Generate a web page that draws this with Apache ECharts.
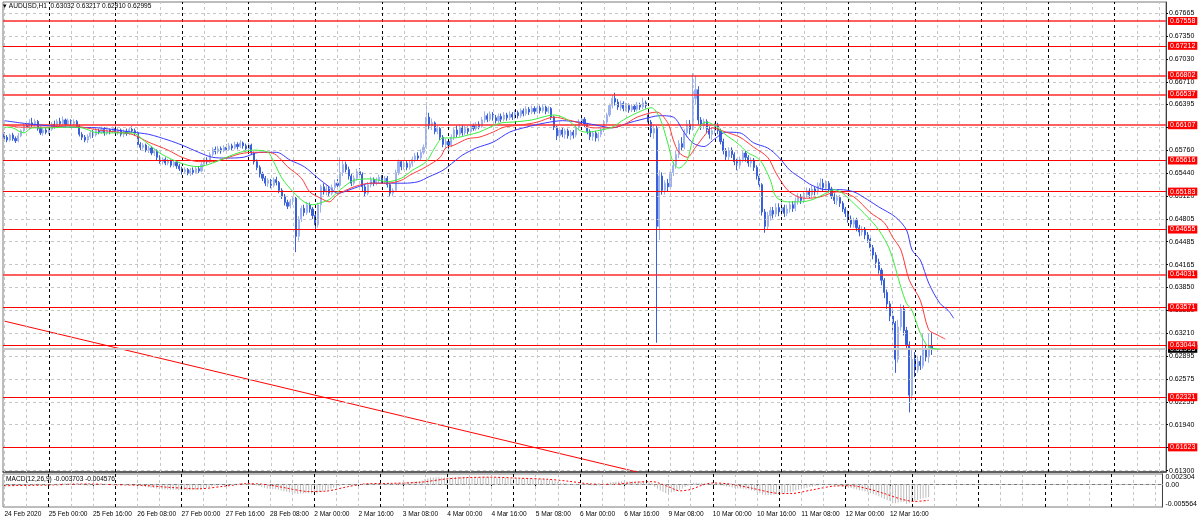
<!DOCTYPE html>
<html><head><meta charset="utf-8">
<script src="https://cdn.jsdelivr.net/npm/echarts@6/dist/echarts.min.js"></script>
<style>html,body{margin:0;padding:0;background:#fff}#c{width:1200px;height:524px}</style>
</head><body><div id="c"></div>
<script>
// ---------- DATA ----------
const symbolName = 'AUDUSD,H1';
const timeLabels = ['24 Feb 2020','25 Feb 00:00','25 Feb 16:00','26 Feb 08:00','27 Feb 00:00','27 Feb 16:00','28 Feb 08:00','2 Mar 00:00','2 Mar 16:00','3 Mar 08:00','4 Mar 00:00','4 Mar 16:00','5 Mar 08:00','6 Mar 00:00','6 Mar 16:00','9 Mar 08:00','10 Mar 00:00','10 Mar 16:00','11 Mar 08:00','12 Mar 00:00','12 Mar 16:00'];
const yTicks = [0.67665,0.67350,0.67030,0.66710,0.66395,0.66075,0.65760,0.65440,0.65120,0.64805,0.64485,0.64165,0.63850,0.63530,0.63210,0.62895,0.62575,0.62255,0.61940,0.61620,0.61300];
const levels = [0.67558,0.67212,0.66802,0.66537,0.66107,0.65616,0.65183,0.64655,0.64031,0.63571,0.63044,0.62321,0.61623];
const daySeparators = [16,40,64,88,112,136,160,184,208,232,256,280,304,328,352,376,400];
const macdTicks = [0.002304, 0, -0.005564];
// candles: [open, close, low, high], hourly bars from 24 Feb 08:00
const candles = [
[0.6598,0.6594,0.6590,0.6601],[0.6594,0.6590,0.6587,0.6597],[0.6590,0.6597,0.6588,0.6599],[0.6597,0.6592,0.6589,0.6600],
[0.6592,0.6589,0.6586,0.6595],[0.6589,0.6596,0.6587,0.6600],[0.6596,0.6603,0.6594,0.6605],[0.6603,0.6610,0.6601,0.6613],
[0.6610,0.6607,0.6604,0.6616],[0.6607,0.6614,0.6605,0.6619],[0.6614,0.6611,0.6608,0.6621],[0.6611,0.6616,0.6609,0.6619],
[0.6616,0.6606,0.6603,0.6618],[0.6606,0.6600,0.6597,0.6609],[0.6600,0.6604,0.6596,0.6607],[0.6604,0.6601,0.6598,0.6608],
// 25 Feb
[0.6601,0.6605,0.6598,0.6608],[0.6605,0.6612,0.6603,0.6615],[0.6612,0.6609,0.6606,0.6617],[0.6609,0.6616,0.6607,0.6619],
[0.6616,0.6613,0.6610,0.6621],[0.6613,0.6618,0.6611,0.6623],[0.6618,0.6612,0.6609,0.6620],[0.6612,0.6617,0.6610,0.6620],
[0.6617,0.6613,0.6609,0.6619],[0.6613,0.6616,0.6610,0.6619],[0.6616,0.6610,0.6607,0.6618],[0.6610,0.6598,0.6595,0.6612],
[0.6598,0.6594,0.6590,0.6601],[0.6594,0.6590,0.6587,0.6597],[0.6590,0.6595,0.6586,0.6598],[0.6595,0.6600,0.6592,0.6603],
[0.6600,0.6597,0.6593,0.6604],[0.6597,0.6603,0.6595,0.6607],[0.6603,0.6601,0.6598,0.6606],[0.6601,0.6605,0.6599,0.6609],
[0.6605,0.6600,0.6596,0.6608],[0.6600,0.6604,0.6597,0.6607],[0.6604,0.6602,0.6598,0.6606],[0.6602,0.6606,0.6600,0.6609],
// 26 Feb
[0.6606,0.6601,0.6598,0.6609],[0.6601,0.6604,0.6597,0.6608],[0.6604,0.6598,0.6595,0.6606],[0.6598,0.6602,0.6594,0.6605],
[0.6602,0.6599,0.6596,0.6606],[0.6599,0.6605,0.6597,0.6608],[0.6605,0.6603,0.6600,0.6609],[0.6603,0.6600,0.6596,0.6606],
[0.6600,0.6584,0.6581,0.6602],[0.6584,0.6580,0.6576,0.6587],[0.6580,0.6583,0.6577,0.6586],[0.6583,0.6576,0.6573,0.6585],
[0.6576,0.6579,0.6572,0.6582],[0.6579,0.6572,0.6569,0.6581],[0.6572,0.6575,0.6568,0.6578],[0.6575,0.6566,0.6562,0.6577],
[0.6566,0.6560,0.6557,0.6569],[0.6560,0.6563,0.6556,0.6566],[0.6563,0.6558,0.6555,0.6566],[0.6558,0.6561,0.6555,0.6564],
[0.6561,0.6555,0.6552,0.6563],[0.6555,0.6559,0.6552,0.6562],[0.6559,0.6554,0.6550,0.6561],[0.6554,0.6550,0.6547,0.6557],
// 27 Feb
[0.6550,0.6546,0.6542,0.6553],[0.6546,0.6549,0.6543,0.6552],[0.6549,0.6544,0.6541,0.6551],[0.6544,0.6548,0.6540,0.6551],
[0.6548,0.6545,0.6542,0.6552],[0.6545,0.6550,0.6543,0.6553],[0.6550,0.6547,0.6544,0.6554],[0.6547,0.6556,0.6545,0.6559],
[0.6556,0.6562,0.6553,0.6565],[0.6562,0.6560,0.6556,0.6566],[0.6560,0.6570,0.6558,0.6573],[0.6570,0.6577,0.6567,0.6580],
[0.6577,0.6574,0.6570,0.6581],[0.6574,0.6578,0.6571,0.6582],[0.6578,0.6575,0.6571,0.6581],[0.6575,0.6580,0.6573,0.6583],
[0.6580,0.6577,0.6573,0.6584],[0.6577,0.6582,0.6575,0.6586],[0.6582,0.6579,0.6576,0.6585],[0.6579,0.6584,0.6577,0.6588],
[0.6584,0.6581,0.6577,0.6587],[0.6581,0.6586,0.6579,0.6590],[0.6586,0.6582,0.6578,0.6588],[0.6582,0.6578,0.6574,0.6585],
// 28 Feb
[0.6578,0.6583,0.6575,0.6586],[0.6583,0.6572,0.6569,0.6585],[0.6572,0.6560,0.6556,0.6574],[0.6560,0.6552,0.6548,0.6563],
[0.6552,0.6543,0.6538,0.6555],[0.6543,0.6537,0.6533,0.6546],[0.6537,0.6530,0.6526,0.6540],[0.6530,0.6534,0.6525,0.6537],
[0.6534,0.6527,0.6523,0.6536],[0.6527,0.6535,0.6524,0.6538],[0.6535,0.6531,0.6527,0.6539],[0.6531,0.6520,0.6516,0.6533],
[0.6520,0.6512,0.6508,0.6523],[0.6512,0.6503,0.6499,0.6515],[0.6503,0.6498,0.6494,0.6507],[0.6498,0.6505,0.6495,0.6508],
[0.6505,0.6509,0.6500,0.6512],[0.6509,0.6456,0.6434,0.6511],[0.6456,0.6480,0.6450,0.6484],[0.6480,0.6495,0.6476,0.6499],
[0.6495,0.6489,0.6484,0.6500],[0.6489,0.6500,0.6486,0.6504],[0.6500,0.6494,0.6489,0.6503],[0.6494,0.6485,0.6480,0.6497],
// 2 Mar
[0.6485,0.6472,0.6465,0.6488],[0.6472,0.6500,0.6468,0.6503],[0.6500,0.6525,0.6489,0.6528],[0.6525,0.6518,0.6514,0.6530],
[0.6518,0.6522,0.6513,0.6527],[0.6522,0.6516,0.6512,0.6526],[0.6516,0.6524,0.6513,0.6528],[0.6524,0.6530,0.6520,0.6535],
[0.6530,0.6527,0.6523,0.6536],[0.6527,0.6545,0.6524,0.6566],[0.6545,0.6556,0.6540,0.6562],[0.6556,0.6549,0.6545,0.6560],
[0.6549,0.6540,0.6535,0.6553],[0.6540,0.6530,0.6526,0.6544],[0.6530,0.6537,0.6527,0.6541],[0.6537,0.6546,0.6534,0.6550],
[0.6546,0.6542,0.6538,0.6551],[0.6542,0.6525,0.6518,0.6545],[0.6525,0.6516,0.6511,0.6528],[0.6516,0.6528,0.6513,0.6532],
[0.6528,0.6535,0.6524,0.6539],[0.6535,0.6530,0.6526,0.6538],[0.6530,0.6534,0.6527,0.6538],[0.6534,0.6538,0.6530,0.6542],
// 3 Mar
[0.6538,0.6533,0.6529,0.6541],[0.6533,0.6537,0.6530,0.6540],[0.6537,0.6528,0.6524,0.6540],[0.6528,0.6516,0.6511,0.6530],
[0.6516,0.6520,0.6512,0.6523],[0.6520,0.6545,0.6518,0.6549],[0.6545,0.6560,0.6541,0.6563],[0.6560,0.6553,0.6548,0.6562],
[0.6553,0.6558,0.6549,0.6562],[0.6558,0.6552,0.6548,0.6561],[0.6552,0.6557,0.6549,0.6561],[0.6557,0.6563,0.6553,0.6567],
[0.6563,0.6568,0.6559,0.6572],[0.6568,0.6565,0.6561,0.6573],[0.6565,0.6573,0.6562,0.6577],[0.6573,0.6580,0.6570,0.6584],
[0.6580,0.6622,0.6578,0.6643],[0.6622,0.6610,0.6605,0.6628],[0.6610,0.6614,0.6604,0.6620],[0.6614,0.6602,0.6598,0.6616],
[0.6602,0.6606,0.6598,0.6610],[0.6606,0.6594,0.6590,0.6608],[0.6594,0.6584,0.6580,0.6597],[0.6584,0.6588,0.6578,0.6592],
// 4 Mar
[0.6588,0.6583,0.6577,0.6591],[0.6583,0.6594,0.6580,0.6598],[0.6594,0.6604,0.6590,0.6608],[0.6604,0.6598,0.6594,0.6610],
[0.6598,0.6608,0.6595,0.6612],[0.6608,0.6600,0.6596,0.6611],[0.6600,0.6606,0.6597,0.6610],[0.6606,0.6602,0.6598,0.6609],
[0.6602,0.6610,0.6600,0.6614],[0.6610,0.6606,0.6603,0.6613],[0.6606,0.6612,0.6603,0.6615],[0.6612,0.6609,0.6605,0.6616],
[0.6609,0.6618,0.6607,0.6622],[0.6618,0.6624,0.6614,0.6630],[0.6624,0.6619,0.6615,0.6627],[0.6619,0.6626,0.6616,0.6630],
[0.6626,0.6621,0.6617,0.6629],[0.6621,0.6617,0.6613,0.6625],[0.6617,0.6623,0.6614,0.6627],[0.6623,0.6619,0.6615,0.6627],
[0.6619,0.6625,0.6616,0.6629],[0.6625,0.6621,0.6617,0.6628],[0.6621,0.6626,0.6618,0.6630],[0.6626,0.6622,0.6618,0.6629],
// 5 Mar
[0.6622,0.6628,0.6619,0.6632],[0.6628,0.6624,0.6620,0.6631],[0.6624,0.6631,0.6621,0.6634],[0.6631,0.6627,0.6623,0.6634],
[0.6627,0.6633,0.6624,0.6637],[0.6633,0.6629,0.6625,0.6636],[0.6629,0.6634,0.6626,0.6638],[0.6634,0.6630,0.6626,0.6637],
[0.6630,0.6635,0.6627,0.6640],[0.6635,0.6631,0.6627,0.6638],[0.6631,0.6636,0.6628,0.6640],[0.6636,0.6630,0.6626,0.6638],
[0.6630,0.6634,0.6627,0.6637],[0.6634,0.6622,0.6618,0.6636],[0.6622,0.6608,0.6604,0.6624],[0.6608,0.6596,0.6590,0.6610],
[0.6596,0.6604,0.6592,0.6608],[0.6604,0.6598,0.6594,0.6607],[0.6598,0.6603,0.6592,0.6606],[0.6603,0.6596,0.6592,0.6606],
[0.6596,0.6601,0.6590,0.6604],[0.6601,0.6597,0.6592,0.6604],[0.6597,0.6608,0.6594,0.6612],[0.6608,0.6615,0.6605,0.6619],
// 6 Mar
[0.6615,0.6619,0.6610,0.6623],[0.6619,0.6612,0.6608,0.6622],[0.6612,0.6602,0.6598,0.6614],[0.6602,0.6595,0.6590,0.6605],
[0.6595,0.6600,0.6589,0.6603],[0.6600,0.6593,0.6588,0.6603],[0.6593,0.6598,0.6588,0.6601],[0.6598,0.6604,0.6594,0.6607],
[0.6604,0.6615,0.6601,0.6618],[0.6615,0.6625,0.6612,0.6628],[0.6625,0.6638,0.6622,0.6641],[0.6638,0.6648,0.6634,0.6652],
[0.6648,0.6643,0.6638,0.6656],[0.6643,0.6636,0.6632,0.6647],[0.6636,0.6641,0.6631,0.6645],[0.6641,0.6634,0.6630,0.6644],
[0.6634,0.6638,0.6630,0.6642],[0.6638,0.6632,0.6628,0.6641],[0.6632,0.6637,0.6629,0.6640],[0.6637,0.6633,0.6629,0.6640],
[0.6633,0.6639,0.6630,0.6643],[0.6639,0.6636,0.6632,0.6642],[0.6636,0.6642,0.6633,0.6649],[0.6642,0.6638,0.6634,0.6645],
// 9 Mar
[0.6625,0.6615,0.6610,0.6630],[0.6615,0.6600,0.6594,0.6618],[0.6600,0.6606,0.6592,0.6612],[0.6606,0.6470,0.6308,0.6610],
[0.6470,0.6540,0.6451,0.6548],[0.6540,0.6520,0.6514,0.6545],[0.6520,0.6530,0.6514,0.6534],[0.6530,0.6525,0.6518,0.6536],
[0.6525,0.6545,0.6521,0.6550],[0.6545,0.6555,0.6540,0.6560],[0.6555,0.6570,0.6550,0.6575],[0.6570,0.6585,0.6565,0.6590],
[0.6585,0.6580,0.6575,0.6594],[0.6580,0.6600,0.6577,0.6605],[0.6600,0.6612,0.6594,0.6618],[0.6612,0.6605,0.6598,0.6618],
[0.6605,0.6648,0.6603,0.6683],[0.6648,0.6660,0.6640,0.6680],[0.6660,0.6618,0.6612,0.6665],[0.6618,0.6610,0.6604,0.6622],
[0.6610,0.6616,0.6605,0.6620],[0.6616,0.6605,0.6600,0.6619],[0.6605,0.6598,0.6592,0.6609],[0.6598,0.6603,0.6590,0.6607],
// 10 Mar
[0.6603,0.6610,0.6598,0.6614],[0.6610,0.6603,0.6598,0.6614],[0.6603,0.6588,0.6584,0.6606],[0.6588,0.6575,0.6570,0.6592],
[0.6575,0.6567,0.6562,0.6579],[0.6567,0.6576,0.6562,0.6580],[0.6576,0.6570,0.6565,0.6580],[0.6570,0.6560,0.6555,0.6573],
[0.6560,0.6555,0.6548,0.6564],[0.6555,0.6563,0.6550,0.6567],[0.6563,0.6572,0.6559,0.6576],[0.6572,0.6566,0.6560,0.6575],
[0.6566,0.6558,0.6553,0.6569],[0.6558,0.6562,0.6552,0.6566],[0.6562,0.6552,0.6547,0.6565],[0.6552,0.6540,0.6535,0.6555],
[0.6540,0.6528,0.6522,0.6543],[0.6528,0.6490,0.6485,0.6530],[0.6490,0.6470,0.6461,0.6494],[0.6470,0.6485,0.6466,0.6490],
[0.6485,0.6492,0.6478,0.6497],[0.6492,0.6487,0.6481,0.6497],[0.6487,0.6496,0.6483,0.6502],[0.6496,0.6490,0.6484,0.6502],
// 11 Mar
[0.6490,0.6496,0.6485,0.6503],[0.6496,0.6488,0.6483,0.6500],[0.6488,0.6494,0.6484,0.6500],[0.6494,0.6500,0.6489,0.6505],
[0.6500,0.6495,0.6490,0.6505],[0.6495,0.6505,0.6491,0.6510],[0.6505,0.6511,0.6500,0.6516],[0.6511,0.6506,0.6501,0.6515],
[0.6506,0.6514,0.6502,0.6519],[0.6514,0.6519,0.6510,0.6524],[0.6519,0.6514,0.6509,0.6523],[0.6514,0.6522,0.6510,0.6527],
[0.6522,0.6518,0.6513,0.6526],[0.6518,0.6526,0.6514,0.6531],[0.6526,0.6530,0.6521,0.6537],[0.6530,0.6524,0.6519,0.6536],
[0.6524,0.6530,0.6520,0.6534],[0.6530,0.6522,0.6517,0.6533],[0.6522,0.6512,0.6508,0.6525],[0.6512,0.6506,0.6501,0.6516],
[0.6506,0.6510,0.6500,0.6514],[0.6510,0.6502,0.6497,0.6513],[0.6502,0.6494,0.6490,0.6505],[0.6494,0.6488,0.6483,0.6497],
// 12 Mar
[0.6488,0.6480,0.6475,0.6492],[0.6480,0.6473,0.6468,0.6485],[0.6473,0.6478,0.6468,0.6482],[0.6478,0.6468,0.6463,0.6482],
[0.6468,0.6462,0.6456,0.6472],[0.6462,0.6466,0.6457,0.6470],[0.6466,0.6458,0.6452,0.6469],[0.6458,0.6452,0.6447,0.6462],
[0.6452,0.6440,0.6435,0.6455],[0.6440,0.6430,0.6424,0.6444],[0.6430,0.6420,0.6412,0.6434],[0.6420,0.6409,0.6404,0.6425],
[0.6409,0.6395,0.6388,0.6412],[0.6395,0.6378,0.6370,0.6398],[0.6378,0.6362,0.6355,0.6382],[0.6362,0.6345,0.6338,0.6366],
[0.6345,0.6335,0.6325,0.6352],[0.6335,0.6285,0.6266,0.6338],[0.6285,0.6330,0.6280,0.6340],[0.6330,0.6355,0.6325,0.6362],
[0.6355,0.6325,0.6318,0.6360],[0.6325,0.6305,0.6298,0.6330],[0.6305,0.6235,0.6211,0.6310],[0.6235,0.6285,0.6228,0.6300],
// 13 Mar
[0.6285,0.6270,0.6260,0.6295],[0.6270,0.6282,0.6266,0.6290],[0.6282,0.6276,0.6270,0.6290],[0.6276,0.6298,0.6272,0.6321],
[0.6298,0.6288,0.6282,0.6305],[0.6288,0.6303,0.6280,0.6321],[0.63032,0.62995,0.62910,0.63217]
];
// Alligator lines: [bar index, price]
const jaw = [[0,0.6617],[10,0.6612],[23,0.6608],[34,0.6607],[46,0.6601],[52,0.6598],[59,0.6590],[64,0.6583],[70,0.6573],[75,0.6566],[80,0.6565],[86,0.6566],[92,0.6573],[98,0.6573],[103,0.6562],[108,0.6553],[113,0.6537],[117,0.6525],[120,0.6516],[126,0.6523],[132,0.6530],[138,0.6530],[144,0.6530],[149,0.6532],[153,0.6539],[158,0.6548],[162,0.6560],[165,0.6569],[170,0.6579],[176,0.6587],[182,0.6601],[188,0.6608],[195,0.6614],[201,0.6617],[207,0.6615],[213,0.6611],[219,0.6607],[225,0.6614],[233,0.6622],[236,0.6624],[241,0.6622],[245,0.6600],[248,0.6586],[252,0.6581],[256,0.6592],[260,0.6601],[265,0.6600],[270,0.6586],[275,0.6579],[279,0.6566],[283,0.6548],[287,0.6537],[291,0.6527],[296,0.6521],[301,0.6521],[306,0.6518],[311,0.6507],[315,0.6497],[321,0.6483],[325,0.6465],[327,0.6437],[330,0.6423],[333,0.6391],[337,0.6363],[340,0.6353],[342,0.6342]];
const teeth = [[0,0.6611],[6,0.6608],[16,0.6608],[23,0.6610],[28,0.6608],[34,0.6604],[41,0.6601],[46,0.6598],[52,0.6587],[59,0.6576],[64,0.6566],[70,0.6560],[75,0.6560],[80,0.6565],[85,0.6571],[90,0.6573],[95,0.6573],[98,0.6569],[102,0.6553],[107,0.6537],[110,0.6518],[114,0.6509],[117,0.6504],[120,0.6514],[126,0.6525],[132,0.6530],[138,0.6530],[143,0.6534],[146,0.6541],[152,0.6553],[157,0.6566],[159,0.6579],[162,0.6583],[167,0.6592],[171,0.6594],[176,0.6601],[180,0.6608],[186,0.6611],[192,0.6615],[198,0.6622],[203,0.6618],[207,0.6614],[212,0.6607],[218,0.6607],[223,0.6611],[228,0.6622],[235,0.6629],[239,0.6614],[241,0.6590],[243,0.6573],[246,0.6566],[249,0.6580],[253,0.6600],[255,0.6607],[260,0.6601],[265,0.6594],[270,0.6580],[275,0.6566],[278,0.6544],[282,0.6521],[286,0.6511],[289,0.6509],[294,0.6511],[300,0.6518],[306,0.6511],[312,0.6489],[317,0.6475],[320,0.6455],[323,0.6437],[326,0.6395],[330,0.6367],[333,0.6326],[336,0.6319],[339,0.6313]];
const lips = [[0,0.6608],[3,0.6607],[7,0.6600],[10,0.6607],[16,0.6607],[23,0.6608],[28,0.6607],[34,0.6600],[41,0.6600],[46,0.6600],[51,0.6587],[56,0.6572],[61,0.6562],[66,0.6555],[70,0.6553],[75,0.6558],[80,0.6566],[85,0.6573],[90,0.6576],[95,0.6573],[97,0.6560],[100,0.6537],[104,0.6518],[108,0.6504],[111,0.6500],[115,0.6504],[117,0.6507],[121,0.6521],[126,0.6534],[132,0.6536],[138,0.6532],[143,0.6537],[147,0.6548],[152,0.6560],[155,0.6579],[158,0.6593],[162,0.6593],[167,0.6597],[171,0.6601],[175,0.6608],[179,0.6614],[183,0.6615],[190,0.6618],[198,0.6625],[203,0.6618],[207,0.6604],[210,0.6601],[215,0.6604],[219,0.6608],[223,0.6618],[228,0.6628],[233,0.6635],[236,0.6622],[239,0.6586],[241,0.6558],[243,0.6551],[246,0.6562],[248,0.6590],[251,0.6611],[253,0.6615],[257,0.6607],[260,0.6597],[264,0.6586],[268,0.6572],[271,0.6566],[273,0.6558],[276,0.6534],[278,0.6511],[282,0.6504],[287,0.6504],[291,0.6507],[295,0.6514],[299,0.6521],[302,0.6516],[306,0.6502],[311,0.6483],[315,0.6465],[319,0.6437],[323,0.6385],[325,0.6363],[327,0.6353],[330,0.6321],[333,0.6302],[337,0.6299]];
// trend line drawn on the chart: [bar index, price]
const trendLine = [[0,0.6338],[228,0.6128]];
// MACD(12,26,9) main values, one per bar
const macdMain = [
-0.0002,-0.0002,-0.0001,-0.0002,-0.0002,-0.0001,0.0000,0.0001,0.0002,0.0002,0.0003,0.0003,0.0003,0.0002,0.0001,0.0001,
0.0001,0.0002,0.0002,0.0003,0.0003,0.0004,0.0004,0.0004,0.0004,0.0004,0.0003,0.0002,0.0000,-0.0002,-0.0003,-0.0002,
-0.0002,-0.0001,-0.0001,0.0000,0.0000,0.0000,0.0000,0.0001,0.0000,0.0000,-0.0001,-0.0001,-0.0001,0.0000,0.0000,0.0000,
-0.0002,-0.0004,-0.0005,-0.0007,-0.0008,-0.0009,-0.0010,-0.0011,-0.0013,-0.0013,-0.0014,-0.0014,-0.0015,-0.0015,-0.0015,-0.0016,
-0.0016,-0.0016,-0.0016,-0.0016,-0.0015,-0.0015,-0.0014,-0.0013,-0.0011,-0.0009,-0.0007,-0.0005,-0.0003,-0.0002,-0.0001,0.0000,
0.0001,0.0002,0.0002,0.0003,0.0003,0.0004,0.0004,0.0004,0.0004,0.0003,0.0001,-0.0002,-0.0004,-0.0007,-0.0009,-0.0011,
-0.0012,-0.0013,-0.0013,-0.0015,-0.0017,-0.0019,-0.0021,-0.0022,-0.0022,-0.0026,-0.0027,-0.0026,-0.0026,-0.0025,-0.0025,-0.0026,
-0.0027,-0.0025,-0.0021,-0.0018,-0.0016,-0.0014,-0.0012,-0.0009,-0.0007,-0.0004,-0.0001,0.0001,0.0001,0.0001,0.0001,0.0002,
0.0002,0.0001,0.0000,0.0000,0.0001,0.0002,0.0002,0.0003,0.0003,0.0003,0.0002,0.0001,0.0001,0.0003,0.0005,0.0006,
0.0006,0.0007,0.0007,0.0008,0.0009,0.0010,0.0011,0.0012,0.0017,0.0019,0.0021,0.0021,0.0022,0.0022,0.0021,0.0021,
0.0021,0.0021,0.0022,0.0022,0.0023,0.0023,0.0023,0.0022,0.0022,0.0022,0.0022,0.0021,0.0021,0.0022,0.0022,0.0022,
0.0022,0.0021,0.0021,0.0020,0.0020,0.0020,0.0019,0.0019,0.0019,0.0019,0.0019,0.0018,0.0018,0.0018,0.0018,0.0017,
0.0017,0.0017,0.0017,0.0016,0.0016,0.0015,0.0013,0.0010,0.0008,0.0006,0.0005,0.0004,0.0002,0.0001,0.0001,0.0002,
0.0002,0.0002,0.0001,-0.0001,-0.0002,-0.0003,-0.0003,-0.0002,0.0000,0.0002,0.0004,0.0007,0.0008,0.0009,0.0009,0.0009,
0.0009,0.0009,0.0009,0.0009,0.0009,0.0009,0.0010,0.0010,0.0009,0.0007,0.0006,-0.0006,-0.0012,-0.0017,-0.0021,-0.0024,
-0.0024,-0.0023,-0.0021,-0.0018,-0.0015,-0.0011,-0.0007,-0.0004,0.0001,0.0006,0.0006,0.0005,0.0005,0.0004,0.0003,0.0002,
0.0002,0.0001,0.0000,-0.0002,-0.0004,-0.0005,-0.0006,-0.0008,-0.0010,-0.0011,-0.0011,-0.0012,-0.0013,-0.0014,-0.0016,-0.0018,
-0.0021,-0.0025,-0.0029,-0.0030,-0.0030,-0.0030,-0.0029,-0.0028,-0.0027,-0.0026,-0.0025,-0.0023,-0.0022,-0.0020,-0.0017,-0.0015,
-0.0013,-0.0011,-0.0009,-0.0007,-0.0006,-0.0004,-0.0002,-0.0001,0.0000,0.0000,-0.0001,-0.0002,-0.0002,-0.0003,-0.0004,-0.0006,
-0.0007,-0.0009,-0.0010,-0.0012,-0.0014,-0.0016,-0.0018,-0.0020,-0.0022,-0.0025,-0.0028,-0.0031,-0.0034,-0.0038,-0.0042,-0.0045,
-0.0048,-0.0054,-0.0054,-0.0052,-0.0051,-0.0050,-0.005564,-0.0053,-0.0050,-0.0047,-0.0045,-0.0042,-0.0040,-0.0038,-0.003703
];
// MACD signal line: [bar index, value]
const macdSignal = [[0,-0.0003],[16,-0.0001],[30,0.0002],[40,0.0000],[50,-0.0002],[60,-0.0008],[70,-0.0012],[80,-0.0004],[88,0.0003],[95,0.0000],[102,-0.0010],[110,-0.0020],[116,-0.0019],[124,-0.0006],[130,0.0002],[140,0.0004],[150,0.0007],[160,0.0017],[168,0.0021],[176,0.0022],[186,0.0019],[196,0.0016],[204,0.0010],[212,0.0002],[220,0.0001],[228,0.0007],[234,0.0009],[240,-0.0006],[244,-0.0018],[248,-0.0014],[252,-0.0002],[256,0.0005],[262,0.0002],[270,-0.0010],[278,-0.0024],[284,-0.0026],[292,-0.0015],[300,-0.0004],[306,-0.0003],[312,-0.0012],[318,-0.0026],[324,-0.0042],[329,-0.0049],[334,-0.004576]];

// ---------- LAYOUT / STYLE ----------
const SLOTS = 419;
const cats = Array.from({length: SLOTS}, (_, i) => String(i));
const FONT = '"Liberation Sans", Arial, sans-serif';
const last = candles[candles.length - 1];
const bid = last[1];
const fmt5 = v => Number(v).toFixed(5);
const thickLevelIdx = [0, 2, 3, 4, 8]; // levels drawn with a soft double-width stroke

const vGray = [], vBlack = [];
for (let i = 0; i < SLOTS; i += 8) {
  if (daySeparators.includes(i)) vBlack.push({xAxis: i}); else vGray.push({xAxis: i});
}
const grayDash = {color: '#c6c6c6', width: 1, type: [3, 3]};
const blackDash = {color: '#000000', width: 1, type: [3, 3]};
const gridLineData = (withH) => {
  const d = [];
  vGray.forEach(p => d.push({...p, lineStyle: grayDash}));
  if (withH) yTicks.forEach(v => d.push({yAxis: v, lineStyle: grayDash}));
  vBlack.forEach(p => d.push({...p, lineStyle: blackDash}));
  return d;
};

const chart = echarts.init(document.getElementById('c'));
chart.setOption({
  animation: false,
  backgroundColor: '#ffffff',
  title: [
    {text: '▾ ' + symbolName + '  ' + [last[0], last[3], last[2], last[1]].map(fmt5).join(' '),
     left: 3, top: 3, padding: 0,
     textStyle: {fontFamily: FONT, fontSize: 6.6, fontWeight: 'normal', color: '#000'}},
    {text: 'MACD(12,26,9) ' + macdMain[macdMain.length - 1].toFixed(6) + ' ' + macdSignal[macdSignal.length - 1][1].toFixed(6),
     left: 6, top: 476, padding: 0,
     textStyle: {fontFamily: FONT, fontSize: 6.6, fontWeight: 'normal', color: '#000'}}
  ],
  grid: [
    {left: 3, right: 34, top: 2, height: 470, show: true, borderColor: '#7a7a7a', borderWidth: 1},
    {left: 3, right: 34, top: 474, height: 33, show: true, borderColor: '#7a7a7a', borderWidth: 1}
  ],
  xAxis: [
    {type: 'category', gridIndex: 0, data: cats, boundaryGap: true,
     axisLine: {show: true, lineStyle: {color: '#404040', width: 1.5}}, axisTick: {show: false},
     axisLabel: {show: false}, splitLine: {show: false}},
    {type: 'category', gridIndex: 1, data: cats, boundaryGap: true,
     axisLine: {show: true, lineStyle: {color: '#7a7a7a'}},
     axisTick: {show: true, alignWithLabel: true, length: 3, interval: (i) => i % 16 === 0 && i <= 320, lineStyle: {color: '#000'}},
     axisLabel: {show: true, interval: (i) => i % 16 === 0 && i <= 320, formatter: (v, i) => timeLabels[Math.round(i / 16)],
       align: 'left', margin: 4, fontFamily: FONT, fontSize: 6.6, color: '#000'},
     splitLine: {show: false}}
  ],
  yAxis: [
    {type: 'value', gridIndex: 0, position: 'right', min: 0.61280, max: 0.67822, scale: true,
     axisLine: {show: true, lineStyle: {color: '#404040'}},
     axisTick: {show: true, length: 2, customValues: yTicks, lineStyle: {color: '#000'}},
     axisLabel: {show: true, customValues: yTicks, formatter: fmt5, margin: 3, fontFamily: FONT, fontSize: 7, color: '#000'},
     splitLine: {show: false}},
    {type: 'value', gridIndex: 1, position: 'right', min: -0.00653, max: 0.00313,
     axisLine: {show: true, lineStyle: {color: '#404040'}},
     axisTick: {show: false},
     axisLabel: {show: true, customValues: macdTicks, formatter: v => (v === 0 ? '0.00' : v.toFixed(6)), margin: 3, fontFamily: FONT, fontSize: 7, color: '#000'},
     splitLine: {show: false}}
  ],
  series: [
    {type: 'line', xAxisIndex: 0, yAxisIndex: 0, data: [], z: 1, silent: true,
     markLine: {silent: true, symbol: ['none', 'none'], precision: 6, animation: false, label: {show: false}, data: gridLineData(true)}},
    {type: 'line', xAxisIndex: 1, yAxisIndex: 1, data: [], z: 1, silent: true,
     markLine: {silent: true, symbol: ['none', 'none'], precision: 6, animation: false, label: {show: false},
       data: gridLineData(false).concat([{yAxis: 0, lineStyle: grayDash}])}},
    {type: 'line', xAxisIndex: 0, yAxisIndex: 0, data: [], z: 2, silent: true,
     markLine: {silent: true, symbol: ['none', 'none'], precision: 6, animation: false,
       lineStyle: {color: '#c8c8c8', width: 2, type: 'solid'},
       label: {show: true, position: 'end', distance: 2, formatter: p => fmt5(p.value), backgroundColor: '#000', color: '#fff',
         fontFamily: FONT, fontSize: 7, padding: [1, 2, 0, 2]},
       data: [{yAxis: bid}]}},
    {type: 'line', xAxisIndex: 0, yAxisIndex: 0, data: [], z: 3, silent: true,
     markLine: {silent: true, symbol: ['none', 'none'], precision: 6, animation: false,
       lineStyle: {color: '#ff0000', width: 1, type: 'solid'},
       label: {show: true, position: 'end', distance: 2, formatter: p => fmt5(p.value), backgroundColor: '#ff0000', color: '#fff',
         fontFamily: FONT, fontSize: 7, padding: [1, 2, 0, 2]},
       data: levels.map((v, k) => thickLevelIdx.includes(k)
         ? {yAxis: v, lineStyle: {color: '#ff2a2a', width: 1.6, type: 'solid'}}
         : {yAxis: v})}},
    {type: 'line', xAxisIndex: 0, yAxisIndex: 0, data: trendLine, z: 3, silent: true, showSymbol: false,
     lineStyle: {color: '#ff0000', width: 1}},
    {type: 'candlestick', xAxisIndex: 0, yAxisIndex: 0, data: candles, z: 4, barWidth: 1.6,
     itemStyle: {color: '#9db1ef', color0: '#3a60d8', borderColor: '#9db1ef', borderColor0: '#3a60d8', borderWidth: 1}},
    {type: 'line', xAxisIndex: 0, yAxisIndex: 0, data: jaw, z: 5, showSymbol: false, smooth: 0.3, lineStyle: {color: '#3a3aff', width: 1}},
    {type: 'line', xAxisIndex: 0, yAxisIndex: 0, data: teeth, z: 5, showSymbol: false, smooth: 0.3, lineStyle: {color: '#ff3a3a', width: 1}},
    {type: 'line', xAxisIndex: 0, yAxisIndex: 0, data: lips, z: 5, showSymbol: false, smooth: 0.3, lineStyle: {color: '#3aee3a', width: 1}},
    {type: 'bar', xAxisIndex: 1, yAxisIndex: 1, data: macdMain, z: 3, barWidth: 1, itemStyle: {color: '#bdbdbd'}},
    {type: 'line', xAxisIndex: 1, yAxisIndex: 1, data: macdSignal, z: 4, showSymbol: false, smooth: 0.3,
     lineStyle: {color: '#ff0000', width: 1, type: [2, 2]}}
  ]
});
</script>
</body></html>
